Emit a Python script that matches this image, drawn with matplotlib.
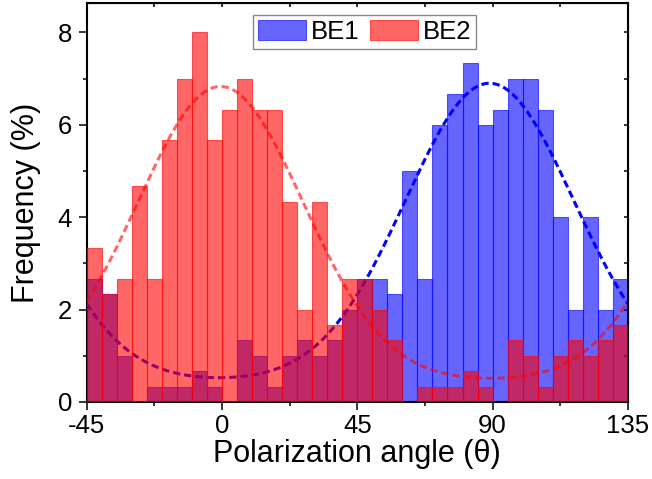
import numpy as np
import matplotlib
matplotlib.use("Agg")
import matplotlib.pyplot as plt
from matplotlib.ticker import MultipleLocator

plt.rcParams['font.family'] = ['Liberation Sans', 'DejaVu Sans']
plt.rcParams['axes.unicode_minus'] = False

# 5 degree bins from -45 to 135
bin_left = np.arange(-45, 135, 5)
# frequency (%) per bin
be1 = [2.67, 2.33, 1.0, 0, 0.33, 0.33, 0.33, 0.67, 0.33, 0, 1.33, 1.0,
       0.33, 1.0, 1.33, 1.0, 1.33, 2.0, 2.67, 2.67, 2.33, 5.0, 2.67, 6.0,
       6.67, 7.33, 6.0, 6.33, 7.0, 7.0, 6.33, 4.0, 2.0, 4.0, 2.0, 2.67]
be2 = [3.33, 2.33, 2.67, 4.67, 2.67, 5.67, 7.0, 8.0, 5.67, 6.33, 7.0, 6.33,
       6.33, 4.33, 2.0, 4.33, 1.67, 2.67, 2.67, 2.0, 1.33, 0, 0.33, 0.33,
       0.33, 0.67, 0.33, 0, 1.33, 1.0, 0.33, 1.0, 1.33, 1.0, 1.33, 1.67]

# gaussian fit parameters (offset, amplitude, centre, width)
fit_be1 = (0.45, 6.45, 89.0, 28.0)
fit_be2 = (0.45, 6.38, -0.5, 27.5)


def gauss_fit(x, y0, a, xc, w):
    # periodic in 180 deg
    y = np.zeros_like(x)
    for k in (-180, 0, 180):
        y += np.exp(-(x - xc - k) ** 2 / (2 * w ** 2))
    return y0 + a * y


xs = np.linspace(-45, 135, 400)

fig = plt.figure(figsize=(6.52, 4.79), dpi=100)
ax = fig.add_axes([0.133, 0.161, 0.830, 0.832])

ax.bar(bin_left, be1, width=5, align='edge', color='blue', alpha=0.6,
       edgecolor='blue', linewidth=0.8, label='BE1', zorder=1)
ax.plot(xs, gauss_fit(xs, *fit_be1), color='blue', lw=2.2,
        linestyle=(0, (2.4, 1.3)), zorder=2)
ax.bar(bin_left, be2, width=5, align='edge', color='red', alpha=0.6,
       edgecolor='red', linewidth=0.8, label='BE2', zorder=3)
ax.plot(xs, gauss_fit(xs, *fit_be2), color='red', lw=2.2, alpha=0.6,
        linestyle=(0, (2.4, 1.3)), zorder=4)

ax.set_xlim(-45, 135)
ax.set_ylim(0, 8.63)
ax.xaxis.set_major_locator(MultipleLocator(45))
ax.xaxis.set_minor_locator(MultipleLocator(22.5))
ax.yaxis.set_major_locator(MultipleLocator(2))
ax.yaxis.set_minor_locator(MultipleLocator(1))
ax.tick_params(which='major', direction='out', length=5.5, width=1.1,
               labelsize=18.5, pad=3)
ax.tick_params(which='minor', direction='out', length=3, width=1.1)
ax.tick_params(axis='y', which='major', pad=5)
for s in ax.spines.values():
    s.set_linewidth(1.5)

# ticks pointing inwards on top and right
top = ax.secondary_xaxis('top')
top.xaxis.set_major_locator(MultipleLocator(22.5))
top.tick_params(direction='in', length=3, width=1.1, labeltop=False)
right = ax.secondary_yaxis('right')
right.yaxis.set_major_locator(MultipleLocator(1))
right.tick_params(direction='in', length=3, width=1.1, labelright=False)

ax.set_xlabel('Polarization angle (θ)', fontsize=22, labelpad=1)
ax.set_ylabel('Frequency (%)', fontsize=22)
ax.yaxis.set_label_coords(-0.084, 0.5)

leg = ax.legend(loc='upper center', bbox_to_anchor=(0.514, 0.972), ncol=2,
                fontsize=18.5, frameon=True, fancybox=False, framealpha=1,
                edgecolor='#888888', borderaxespad=0, borderpad=0.2,
                handlelength=1.85, handleheight=0.85, handletextpad=0.2,
                columnspacing=0.4)
leg.get_frame().set_linewidth(1.0)

fig.savefig('out.png', dpi=100)
